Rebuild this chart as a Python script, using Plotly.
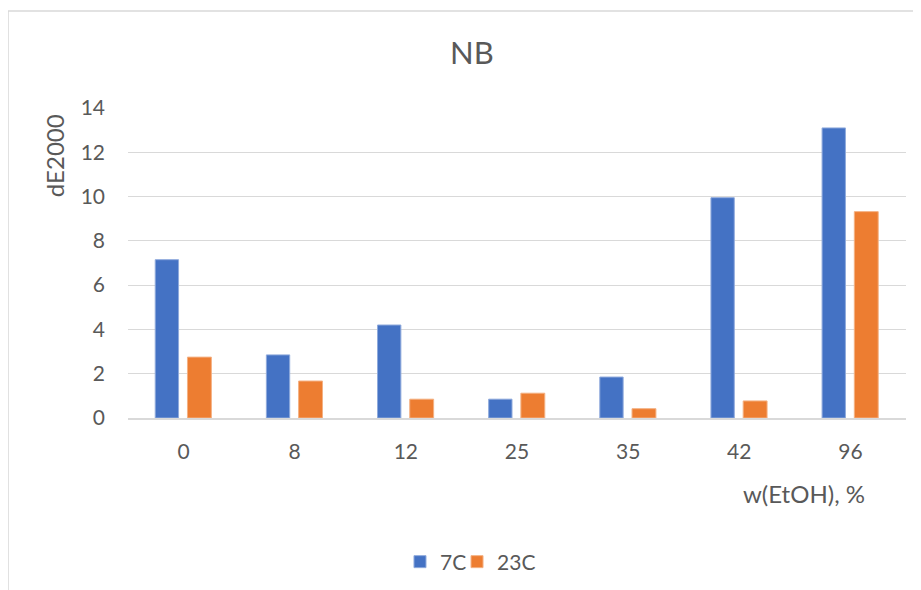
import plotly.graph_objects as go

# datos
categorias = ["0", "8", "12", "25", "35", "42", "96"]
valores_7c = [7.15, 2.85, 4.2, 0.85, 1.85, 9.95, 13.1]
valores_23c = [2.75, 1.67, 0.85, 1.12, 0.42, 0.77, 9.32]
ticks_y = [0, 2, 4, 6, 8, 10, 12, 14]

gris = "#595959"
fuente = "Lato"

fig = go.Figure()
fig.add_trace(go.Bar(x=categorias, y=valores_7c, name="7C", legend="legend",
                     marker=dict(color="#4472C4", line=dict(color="#8FAADC", width=1)),
                     width=0.21, offset=-0.255))
fig.add_trace(go.Bar(x=categorias, y=valores_23c, name="23C", legend="legend2",
                     marker=dict(color="#ED7D31", line=dict(color="#F4B183", width=1)),
                     width=0.215, offset=0.035))

# una leyenda por serie para acercar los elementos como en excel
leyenda = dict(orientation="h", xanchor="left", y=-0.4645, yanchor="middle",
               font=dict(size=21, color=gris), bgcolor="rgba(0,0,0,0)")

# el html tiene 8px de margen en el body, por eso se restan aqui
fig.update_layout(
    width=921, height=590,
    margin=dict(l=120, r=23, t=100, b=180),
    paper_bgcolor="white", plot_bgcolor="white",
    font=dict(family=fuente, color=gris, size=21),
    showlegend=True,
    legend=dict(leyenda, x=0.3496),
    legend2=dict(leyenda, x=0.4229),
    annotations=[
        dict(text="NB", x=0.442, xref="paper", y=1.18, yref="paper", showarrow=False,
             font=dict(size=31, color=gris), xanchor="center", yanchor="middle"),
        dict(text="dE2000", x=-0.095, xref="paper", y=0.845, yref="paper", showarrow=False,
             textangle=-90, font=dict(size=24, color=gris), xanchor="center", yanchor="middle"),
        dict(text="w(EtOH), %", x=0.9495, xref="paper", y=-0.242, yref="paper", showarrow=False,
             font=dict(size=24, color=gris), xanchor="right", yanchor="middle"),
    ],
    shapes=[dict(type="rect", xref="paper", yref="paper", x0=-0.1542, x1=1.05, y0=-0.6, y1=1.313,
                 line=dict(color="#D9D9D9", width=1.5))],
)

fig.update_xaxes(type="category", showline=True, linecolor="#D9D9D9", linewidth=1.5,
                 ticks="", ticklabelstandoff=14, tickfont=dict(size=21, color=gris))
fig.update_yaxes(range=[0, 14], tickvals=ticks_y, showgrid=True, gridcolor="#D9D9D9",
                 gridwidth=1, zeroline=False, showline=False, ticks="",
                 ticklabelstandoff=22, tickfont=dict(size=21, color=gris))

fig.write_html("out.html")
